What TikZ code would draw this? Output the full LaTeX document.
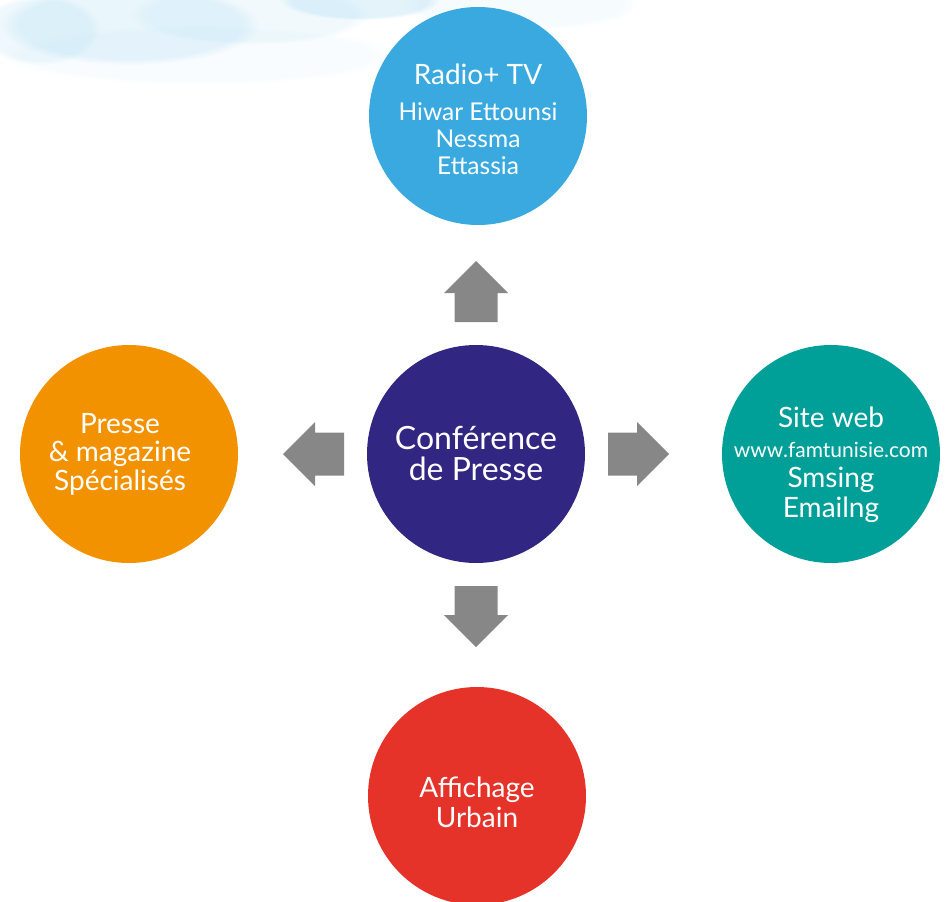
\documentclass[tikz,border=0pt]{standalone}
\usepackage{fontspec}
\setmainfont{Lato}
\usetikzlibrary{fadings}
\definecolor{bleuciel}{HTML}{39A9DF}
\definecolor{indigo}{HTML}{312782}
\definecolor{sarcelle}{HTML}{009F98}
\definecolor{orangeP}{HTML}{F39200}
\definecolor{rouge}{HTML}{E5332A}
\definecolor{gris}{HTML}{878787}
\newcommand{\grand}{\fontsize{28}{30}\selectfont}
\newcommand{\moyen}{\fontsize{24.5}{27}\selectfont}
\newcommand{\petit}{\fontsize{21}{30}\selectfont}

\begin{document}
\begin{tikzpicture}[x=1pt, y=-1pt,
  bulle/.style={circle, minimum size=218pt, inner sep=0pt},
  texte/.style={text=white, align=center, inner sep=0pt},
  fleche/.style={fill=gris}]
  \useasboundingbox (0,0) rectangle (948,902);
  % fond aquarelle
  \foreach \x/\y/\rx/\ry/\o in {
    130/25/130/40/0.2, 360/0/80/20/0.25, 40/30/60/35/0.15, 250/15/120/30/0.12,
    520/5/120/25/0.08, 200/55/200/30/0.06} {
    \fill[bleuciel!55, opacity=\o, path fading=circle with fuzzy edge 15 percent] (\x,\y) ellipse [x radius=\rx, y radius=\ry];
  }
  \node[bulle, fill=indigo] (conf) at (476,454) {};
  \node[bulle, fill=bleuciel] (media) at (478,116) {};
  \node[bulle, fill=sarcelle] (web) at (831,454) {};
  \node[bulle, fill=orangeP] (presse) at (129,454) {};
  \node[bulle, fill=rouge] (affiche) at (477,796) {};
  % textes
  \node[texte, font=\fontsize{32}{31}\selectfont] (conf-t) at ([yshift=1pt]conf.center) {Conférence\\de Presse};
  \node[texte, font=\moyen] (media-t) at ([yshift=-3.5pt]media.center) {{\grand Radio+ TV}\\[9pt]Hiwar Ettounsi\\Nessma\\Ettassia};
  \node[texte, font=\grand] (web-t) at ([yshift=-11pt]web.center) {Site web\\{\petit www.famtunisie.com}\\Smsing\\Emailng};
  \node[texte, font=\fontsize{28}{28.5}\selectfont] (presse-t) at ([xshift=-9pt]presse.center) {Presse\\\& magazine\\Spécialisés};
  \node[texte, font=\fontsize{28}{30}\selectfont] (affiche-t) at ([yshift=-6pt]affiche.center) {Affichage\\Urbain};
  % fleches
  \foreach \ang in {0,90,180,270}
    \fill[fleche, shift={(conf.center)}, rotate=\ang] (132,-21.5) -- (161,-21.5) -- (161,-32) -- (193,0) -- (161,32) -- (161,21.5) -- (132,21.5) -- cycle;
\end{tikzpicture}
\end{document}
